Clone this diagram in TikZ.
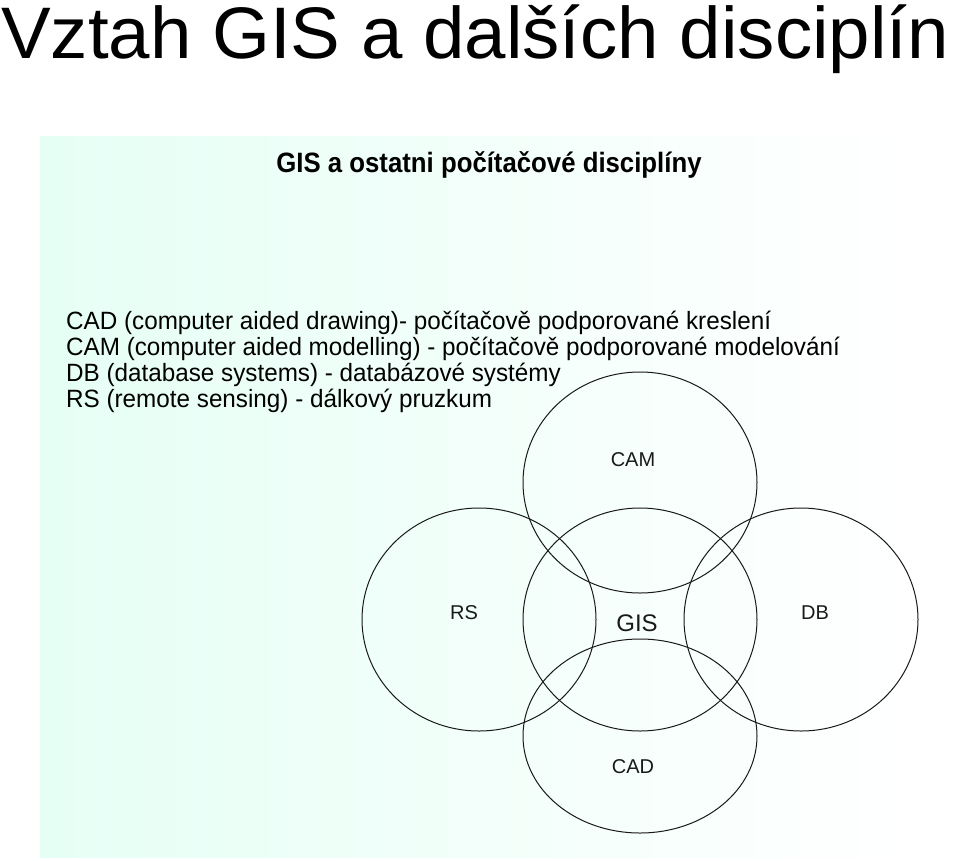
\documentclass[tikz,border=0pt]{standalone}
\usepackage{fontspec}
\setmainfont{Liberation Sans}
\definecolor{PanelClr}{rgb}{0.9,1,0.96}
\definecolor{RingClr}{rgb}{0.1,0.1,0.1}
\tikzset{
  ring/.style={line width=1pt,draw=RingClr},
  tag/.style={inner sep=0pt,text=RingClr,font=\fontsize{20}{20}\selectfont},
  legend/.style={anchor=base west,inner sep=0pt,xscale=0.97,font=\fontsize{25}{25}\selectfont}
}

\begin{document}
\begin{tikzpicture}[x=1pt,y=-1pt]
\useasboundingbox (0,0) rectangle (960,861);
\shade[left color=PanelClr,right color=white] (40,137) rectangle (908,857);

\node[anchor=base west,inner sep=0pt,xscale=1.02,font=\fontsize{73}{73}\selectfont] (title) at (1,59) {Vztah GIS a dalších disciplín};
\node[anchor=base,inner sep=0pt,xscale=0.92,font=\bfseries\fontsize{28}{28}\selectfont] (sub) at (489,172) {GIS a ostatni počítačové disciplíny};

\node[legend] (lcad) at (66,329) {CAD (computer aided drawing)- počítačově podporované kreslení};
\node[legend] (lcam) at (66,355) {CAM (computer aided modelling) - počítačově podporované modelování};
\node[legend] (ldb) at (66,381) {DB (database systems) - databázové systémy};
\node[legend] (lrs) at (66,407) {RS (remote sensing) - dálkový pruzkum};

\coordinate (CAM) at (640,482.5);
\coordinate (RS) at (479,619.5);
\coordinate (GIS) at (640,619.5);
\coordinate (DB) at (801,619.5);
\coordinate (CAD) at (640,736);

\foreach \c/\ry in {RS/111.5,GIS/111.5,DB/111.5,CAM/110.5,CAD/97}
  \draw[ring] (\c) ellipse [x radius=117pt,y radius=\ry pt];

\node[tag] (tcam) at (633,460) {CAM};
\node[tag] (trs) at (464,613) {RS};
\node[tag,font=\fontsize{24}{24}\selectfont] (tgis) at (637,623) {GIS};
\node[tag] (tdb) at (815,613) {DB};
\node[tag] (tcad) at (633,767) {CAD};

\end{tikzpicture}
\end{document}
